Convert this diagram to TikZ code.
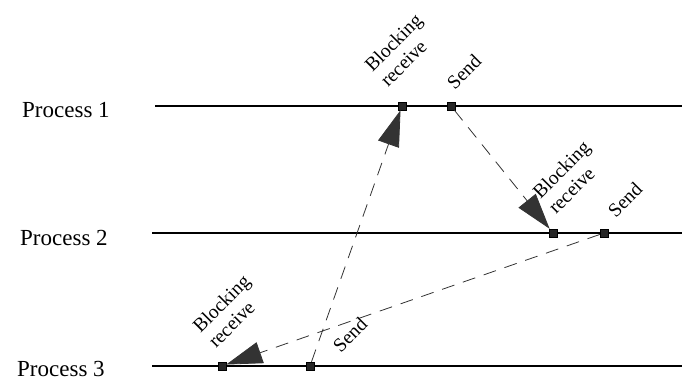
\documentclass[tikz,border=0pt]{standalone}
\usepackage{fontspec}
\setmainfont{Liberation Serif}
\usetikzlibrary{arrows.meta}

\begin{document}
\begin{tikzpicture}[x=1pt,y=-1pt,
  tline/.style={line width=1.4pt},
  evt/.style={draw,fill=black!85,minimum size=8pt,inner sep=0pt},
  msg/.style={draw=black!80,dash pattern=on 13pt off 9pt,line width=0.8pt,-{Triangle[length=36pt,width=22pt]}},
  pname/.style={font=\fontsize{23}{26}\selectfont,anchor=base west,inner sep=0pt},
  tag/.style={font=\fontsize{19.5}{22}\selectfont,rotate=45,align=left,inner sep=0pt}]
\useasboundingbox (0,0) rectangle (682,380);
% process names and time lines
\node[pname] (n1) at (22,117.5) {Process 1};
\node[pname] (n2) at (20,245) {Process 2};
\node[pname] (n3) at (17,376) {Process 3};
\coordinate (a1) at (155,106); \coordinate (b1) at (682,106);
\coordinate (a2) at (152,233); \coordinate (b2) at (682,233);
\coordinate (a3) at (152,366); \coordinate (b3) at (682,366);
\draw[tline] (a1)--(b1); \draw[tline] (a2)--(b2); \draw[tline] (a3)--(b3);
% events
\node[evt] (r1) at (402,106) {}; \node[evt] (s1) at (451,106) {};
\node[evt] (r2) at (553,233) {}; \node[evt] (s2) at (604,233) {};
\node[evt] (r3) at (222,366) {}; \node[evt] (s3) at (310,366) {};
% messages
\draw[msg] (s3)--(r1); \draw[msg] (s1)--(r2); \draw[msg] (s2)--(r3);
% labels
\node[tag] (l1) at (401,50) {Blocking\\receive};
\node[tag] (m1) at (464,72) {Send};
\node[tag] (l2) at (569,177) {Blocking\\receive};
\node[tag] (m2) at (625,200) {Send};
\node[tag] (l3) at (229,311) {Blocking\\receive};
\node[tag] (m3) at (350,335) {Send};
\end{tikzpicture}
\end{document}
